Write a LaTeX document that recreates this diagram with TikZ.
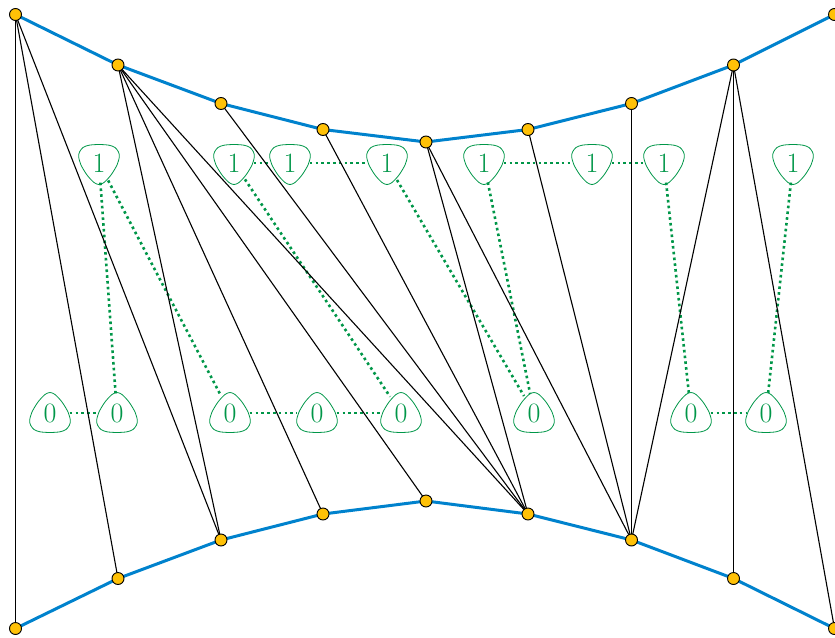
\documentclass[tikz,border=0pt]{standalone}
\definecolor{vblue}{RGB}{0,130,205}
\definecolor{vgreen}{RGB}{0,150,72}
\definecolor{vyellow}{RGB}{255,193,7}
\begin{document}
\begin{tikzpicture}[x=1pt,y=-1pt,
 vert/.style={circle,draw=black,fill=vyellow,line width=0.9pt,minimum size=12pt,inner sep=0pt},
 bluechain/.style={vblue,line width=3pt},
 blk/.style={black,line width=1.1pt},
 lab/.style={circle,minimum size=39pt,inner sep=0pt,text=vgreen,font=\fontsize{28}{30}\selectfont},
 link/.style={vgreen,line width=2.6pt,dash pattern=on 2.6pt off 3.2pt},
 outl/.style={vgreen,line width=0.8pt}]
\useasboundingbox (0,0) rectangle (835,637);
% vertices
\foreach \n/\x/\yt/\yb in {0/15.5/14.5/628.5,1/118/65/578.5,2/221/103.5/540,3/323/129.5/514,4/426/142/501,5/528/129.5/514,6/631.5/103.5/540,7/733.5/65/578.5,8/834.5/14.5/628.5}{
  \coordinate (t\n) at (\x,\yt);
  \coordinate (b\n) at (\x,\yb);
}
% green labels
\foreach \n/\x in {1/99,2/234,3/290,4/387,5/484,6/592,7/664,8/793}{
  \node[lab] (o\n) at (\x,163) {1};
  \draw[outl,shift={(o\n)}] plot[smooth cycle] coordinates {(0,-18.5) (10,-17.8) (16,-15.5) (19.5,-11) (20.3,-6) (18,2) (12,12) (5,19.5) (0,21.5) (-5,19.5) (-12,12) (-18,2) (-20.3,-6) (-19.5,-11) (-16,-15.5) (-10,-17.8)};
}
\foreach \n/\x in {1/50,2/117,3/230,4/317,5/401,6/534,7/691,8/766}{
  \node[lab] (z\n) at (\x,413) {0};
  \draw[outl,shift={(z\n)}] plot[smooth cycle] coordinates {(0,19.5) (10,18.8) (16,16.5) (19.5,12) (20.3,7) (18,-1) (12,-11) (5,-18.5) (0,-20.5) (-5,-18.5) (-12,-11) (-18,-1) (-20.3,7) (-19.5,12) (-16,16.5) (-10,18.8)};
}
\foreach \a/\b in {o1/z2,o1/z3,o2/o3,o3/o4,o2/z5,o4/z6,o5/z6,o5/o6,o6/o7,o7/z7,o8/z8,z1/z2,z3/z4,z4/z5,z7/z8}{
  \draw[link] (\a) -- (\b);
}
% black edges
\foreach \a/\b in {t0/b0,t0/b1,t0/b2,t1/b2,t1/b3,t1/b4,t1/b5,t2/b5,t3/b5,t4/b5,t4/b6,t5/b6,t6/b6,t7/b6,t7/b7,t7/b8}{
  \draw[blk] (\a) -- (\b);
}
% blue chains
\draw[bluechain] (t0) -- (t1) -- (t2) -- (t3) -- (t4) -- (t5) -- (t6) -- (t7) -- (t8);
\draw[bluechain] (b0) -- (b1) -- (b2) -- (b3) -- (b4) -- (b5) -- (b6) -- (b7) -- (b8);
% vertex dots
\foreach \n in {0,...,8}{
  \node[vert] (dt\n) at (t\n) {};
  \node[vert] (db\n) at (b\n) {};
}
\end{tikzpicture}
\end{document}
